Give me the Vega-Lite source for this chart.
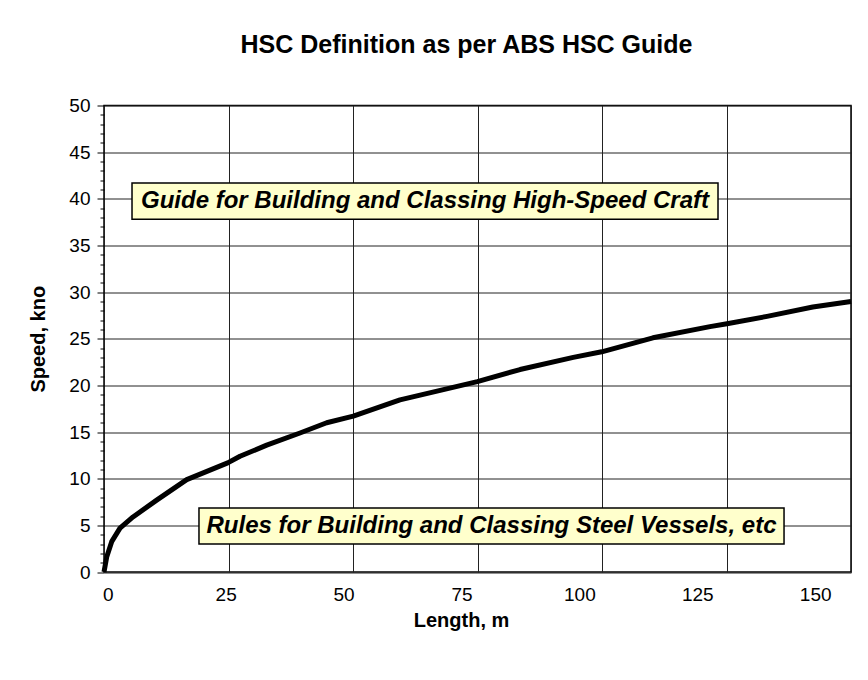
{
  "$schema": "https://vega.github.io/schema/vega-lite/v6.json",
  "width": 747,
  "height": 466.5,
  "autosize": {"type": "none"},
  "padding": {"left": 104, "top": 105.5, "right": 17, "bottom": 108},
  "background": "white",
  "title": {
    "text": "HSC Definition as per ABS HSC Guide",
    "font": "Liberation Sans",
    "fontSize": 25,
    "fontWeight": "bold",
    "color": "black",
    "anchor": "middle",
    "baseline": "alphabetic",
    "dx": -11,
    "offset": 18.5
  },
  "config": {
    "view": {"stroke": "black", "strokeWidth": 1.5},
    "axis": {
      "labelFont": "Liberation Sans",
      "titleFont": "Liberation Sans",
      "labelColor": "black",
      "titleColor": "black",
      "domain": false,
      "gridColor": "#222222",
      "gridWidth": 1
    }
  },
  "datasets": {
    "curve": [
      {"L": -0.8, "V": 0},
      {"L": -0.23, "V": 1.6},
      {"L": 0.83, "V": 3.25},
      {"L": 2.59, "V": 4.7},
      {"L": 5.35, "V": 5.9},
      {"L": 10.37, "V": 7.7},
      {"L": 16.74, "V": 9.9},
      {"L": 25.43, "V": 11.7},
      {"L": 28.04, "V": 12.4},
      {"L": 33.7, "V": 13.6},
      {"L": 40.76, "V": 14.9},
      {"L": 46.42, "V": 16.0},
      {"L": 52.06, "V": 16.7},
      {"L": 61.96, "V": 18.45},
      {"L": 78.36, "V": 20.4},
      {"L": 87.41, "V": 21.7},
      {"L": 98.71, "V": 23.0},
      {"L": 104.74, "V": 23.6},
      {"L": 115.6, "V": 25.1},
      {"L": 127.7, "V": 26.3},
      {"L": 131.3, "V": 26.6},
      {"L": 139.8, "V": 27.4},
      {"L": 149.5, "V": 28.4},
      {"L": 157.6, "V": 29.0}
    ],
    "notes": [
      {"text": "Guide for Building and Classing High-Speed Craft", "x": 5.14, "x2": 129.4, "y": 37.8, "y2": 41.7, "xc": 67.27, "yc": 39.76},
      {"text": "Rules for Building and Classing Steel Vessels, etc", "x": 19.34, "x2": 143.4, "y": 3.0, "y2": 6.86, "xc": 81.37, "yc": 4.93}
    ]
  },
  "layer": [
    {
      "data": {"name": "curve"},
      "mark": {"type": "line", "color": "black", "strokeWidth": 5, "strokeJoin": "round", "strokeCap": "butt"},
      "encoding": {
        "x": {
          "field": "L", "type": "quantitative",
          "scale": {"domain": [-0.8, 157.6], "nice": false, "zero": false},
          "axis": {
            "title": "Length, m",
            "titleFontSize": 20,
            "titleFontWeight": "bold",
            "titlePadding": 6,
            "titleX": 357,
            "values": [-0.8, 0, 25, 25.6, 50, 52, 75, 78.4, 100, 104.8, 125, 131.2, 150, 157.6],
            "tickCount": 100,
            "format": "d",
            "labelExpr": "datum.value % 25 === 0 ? datum.label : ''",
            "labelFontSize": 19,
            "labelPadding": 13,
            "labelOverlap": false,
            "labelFlush": false,
            "ticks": false,
            "grid": true,
            "gridOpacity": {"expr": "datum.value % 25 === 0 ? 0 : 1"}
          }
        },
        "y": {
          "field": "V", "type": "quantitative",
          "scale": {"domain": [0, 50], "nice": false},
          "axis": {
            "title": "Speed, kno",
            "titleFontSize": 20,
            "titleFontWeight": "bold",
            "titlePadding": 20,
            "values": [0,1,2,3,4,5,6,7,8,9,10,11,12,13,14,15,16,17,18,19,20,21,22,23,24,25,26,27,28,29,30,31,32,33,34,35,36,37,38,39,40,41,42,43,44,45,46,47,48,49,50],
            "tickCount": 200,
            "format": "d",
            "labelExpr": "datum.value % 5 === 0 ? datum.label : ''",
            "labelFontSize": 19,
            "labelPadding": 7,
            "labelOverlap": false,
            "labelFlush": false,
            "ticks": true,
            "tickColor": "black",
            "tickSize": {"expr": "datum.value % 5 === 0 ? 7 : 4"},
            "grid": true,
            "gridOpacity": {"expr": "datum.value % 5 === 0 ? 1 : 0"}
          }
        }
      }
    },
    {
      "data": {"name": "notes"},
      "mark": {"type": "rect", "fill": "#FFFFCC", "stroke": "black", "strokeWidth": 1.5},
      "encoding": {
        "x": {"field": "x", "type": "quantitative"},
        "x2": {"field": "x2"},
        "y": {"field": "y", "type": "quantitative"},
        "y2": {"field": "y2"}
      }
    },
    {
      "data": {"name": "notes"},
      "mark": {"type": "text", "font": "Liberation Sans", "fontSize": 24, "fontWeight": "bold", "fontStyle": "italic", "align": "center", "baseline": "middle", "color": "black"},
      "encoding": {
        "x": {"field": "xc", "type": "quantitative"},
        "y": {"field": "yc", "type": "quantitative"},
        "text": {"field": "text"}
      }
    }
  ]
}
